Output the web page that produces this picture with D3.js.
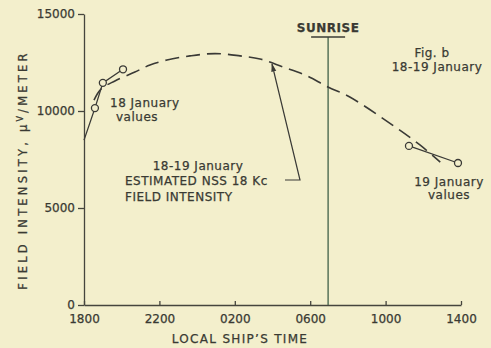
<!DOCTYPE html>
<meta charset="utf-8">
<style>
body { margin: 0; background: #f3efcc; }
svg { display: block; }
text {
  font-family: "DejaVu Sans", sans-serif;
  fill: #393a33;
  stroke: #393a33;
  stroke-width: 0.25px;
}
.axis path, .axis line { stroke: #45453d; stroke-width: 1.3px; }
.axis text { font-size: 12px; fill: #393a33; }
.note { font-size: 12px; letter-spacing: 0.5px; }
</style>
<svg width="491" height="348"></svg>
<script src="https://cdn.jsdelivr.net/npm/d3@7"></script>
<script>

// hours counted from 1800 on 18 January (24 = midnight)
var xTicks = [18, 22, 26, 30, 34, 38];
var xTickLabels = ["1800", "2200", "0200", "0600", "1000", "1400"];
var yTicks = [0, 5000, 10000, 15000];

// 18 January measured values (first point: where the line leaves the axis)
var jan18 = [[18.0, 8500], [18.58, 10150], [19.0, 11450], [20.07, 12150]];
var jan18Marks = [[18.58, 10150], [19.0, 11450], [20.07, 12150]];

// 19 January measured values
var jan19 = [[35.24, 8200], [37.84, 7320]];

// 18-19 January estimated NSS 18 Kc field intensity (dashed)
var estimated = [
  [18.53, 10560], [18.9, 11130], [19.64, 11550], [20.7, 12010], [21.5, 12370],
  [22.4, 12630], [23.62, 12840], [24.95, 12960], [26.28, 12840], [27.34, 12680],
  [28.56, 12270], [29.72, 11860], [30.94, 11240], [32.1, 10720], [34.5, 9180],
  [35.82, 8250], [36.9, 7370]
];

var sunrise = 30.95;

var svg = d3.select("svg");

var x = d3.scaleLinear().domain([18, 38]).range([84, 461]);
var y = d3.scaleLinear().domain([0, 15000]).range([305, 14]);

var line = d3.line()
    .x(function(d) { return x(d[0]); })
    .y(function(d) { return y(d[1]); })
    .curve(d3.curveCatmullRom);

// axes
svg.append("g")
    .attr("class", "axis")
    .attr("transform", "translate(84,0)")
    .call(d3.axisLeft(y).tickValues(yTicks).tickFormat(d3.format("d"))
        .tickSize(6).tickPadding(3).tickSizeOuter(0))
    .call(function(g) { g.selectAll("text").attr("dy", "0.3em"); });

svg.append("g")
    .attr("class", "axis")
    .attr("transform", "translate(0,305)")
    .call(d3.axisBottom(x).tickValues(xTicks)
        .tickFormat(function(d, i) { return xTickLabels[i]; })
        .tickSizeInner(-4).tickSizeOuter(0).tickPadding(9));

svg.selectAll(".axis .domain").attr("stroke", "#45453d");

// sunrise marker
svg.append("line")
    .attr("x1", x(sunrise)).attr("x2", x(sunrise))
    .attr("y1", 37).attr("y2", 305)
    .attr("stroke", "#4d6a52").attr("stroke-width", 1.4);
svg.append("line")
    .attr("x1", x(sunrise) - 17).attr("x2", x(sunrise) + 17)
    .attr("y1", 37).attr("y2", 37)
    .attr("stroke", "#3b3b35").attr("stroke-width", 1.6);
svg.append("text")
    .attr("x", x(sunrise)).attr("y", 32)
    .attr("text-anchor", "middle")
    .attr("font-size", 12).attr("font-weight", "bold")
    .attr("letter-spacing", 0.5)
    .text("SUNRISE");

// estimated curve
svg.append("path")
    .datum(estimated)
    .attr("d", line)
    .attr("fill", "none")
    .attr("stroke", "#3a3a36")
    .attr("stroke-width", 1.6)
    .attr("stroke-dasharray", "14,7");

// measured series
[jan18, jan19].forEach(function(s) {
  svg.append("path")
      .datum(s)
      .attr("d", d3.line().x(function(d) { return x(d[0]); }).y(function(d) { return y(d[1]); }))
      .attr("fill", "none")
      .attr("stroke", "#3a3a36")
      .attr("stroke-width", 1.3);
});

svg.selectAll("circle.pt")
    .data(jan18Marks.concat(jan19))
    .enter().append("circle")
    .attr("class", "pt")
    .attr("cx", function(d) { return x(d[0]); })
    .attr("cy", function(d) { return y(d[1]); })
    .attr("r", 3.5)
    .attr("fill", "#f3efcc")
    .attr("stroke", "#3a3a36")
    .attr("stroke-width", 1.3);

// annotation arrow
svg.append("defs").append("marker")
    .attr("id", "arrow")
    .attr("viewBox", "0 0 10 10")
    .attr("refX", 9).attr("refY", 5)
    .attr("markerWidth", 7).attr("markerHeight", 7)
    .attr("orient", "auto")
  .append("path")
    .attr("d", "M0,2 L10,5 L0,8 Z")
    .attr("fill", "#3a3a36");

svg.append("path")
    .attr("d", "M285,180 L300,180 L272,64")
    .attr("fill", "none")
    .attr("stroke", "#3a3a36")
    .attr("stroke-width", 1.2)
    .attr("marker-end", "url(#arrow)");

// text notes
function note(lines, xPos, yPos, anchor, dy) {
  var t = svg.append("text")
      .attr("class", "note")
      .attr("text-anchor", anchor);
  lines.forEach(function(s, i) {
    t.append("tspan").attr("x", xPos).attr("y", yPos + i * dy).text(s);
  });
}

note(["18 January"], 110, 107, "start", 0);
note(["values"], 137, 121, "middle", 0);
note(["18-19 January"], 198, 170, "middle", 0);
note(["ESTIMATED NSS 18 Kc", "FIELD INTENSITY"], 125, 185, "start", 16);
note(["Fig. b"], 432, 57, "middle", 0);
note(["18-19 January"], 437, 71, "middle", 0);
note(["19 January"], 449, 186, "middle", 0);
note(["values"], 449, 199, "middle", 0);

// axis titles
svg.append("text")
    .attr("x", 240).attr("y", 343)
    .attr("text-anchor", "middle")
    .attr("font-size", 12)
    .attr("letter-spacing", 1.3)
    .text("LOCAL SHIP\u2019S TIME");

var yt = svg.append("text")
    .attr("transform", "translate(27,170) rotate(-90)")
    .attr("text-anchor", "middle")
    .attr("font-size", 11.5)
    .attr("letter-spacing", 3.2);
yt.append("tspan").text("FIELD INTENSITY, \u03bc");
yt.append("tspan").attr("baseline-shift", "super").attr("font-size", 8).text("V");
yt.append("tspan").text("/METER");

</script>
